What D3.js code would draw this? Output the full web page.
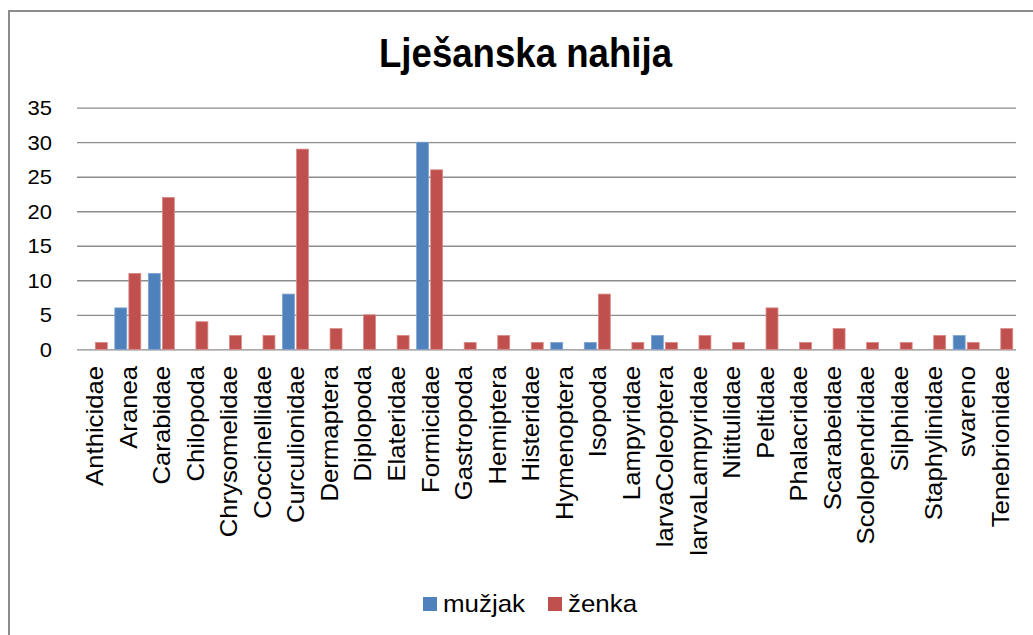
<!DOCTYPE html>
<html>
<head>
<meta charset="utf-8">
<script src="https://cdn.jsdelivr.net/npm/d3@7"></script>
<style>
  body { margin: 0; background: #fff; }
  text { font-family: "Liberation Sans", Arial, sans-serif; fill: #000; }
</style>
</head>
<body>
<script>
/* Data */
var categories = ["Anthicidae", "Aranea", "Carabidae", "Chilopoda", "Chrysomelidae", "Coccinellidae",
	"Curculionidae", "Dermaptera", "Diplopoda", "Elateridae", "Formicidae", "Gastropoda", "Hemiptera",
	"Histeridae", "Hymenoptera", "Isopoda", "Lampyridae", "larvaColeoptera", "larvaLampyridae",
	"Nititulidae", "Peltidae", "Phalacridae", "Scarabeidae", "Scolopendridae", "Silphidae",
	"Staphylinidae", "svareno", "Tenebrionidae"];
var muzjak = [0, 6, 11, 0, 0, 0, 8, 0, 0, 0, 30, 0, 0, 0, 1, 1, 0, 2, 0, 0, 0, 0, 0, 0, 0, 0, 2, 0];
var zenka = [1, 11, 22, 4, 2, 2, 29, 3, 5, 2, 26, 1, 2, 1, 0, 8, 1, 1, 2, 1, 6, 1, 3, 1, 1, 2, 1, 3];
var seriesNames = ["mužjak", "ženka"];
var seriesColors = ["#4F81BD", "#C0504D"];
var seriesStroke = ["#7fa3d1", "#d98a88"];
var yTicks = [0, 5, 10, 15, 20, 25, 30, 35];

/* Display setup */
var width = 1033, height = 635,
	plot = {left: 77, right: 1016, top: 107.7, bottom: 349.3},
	svg = d3.select("body").append("svg")
		.attr("width", width)
		.attr("height", height);

// chart frame (only top and left edges are visible)
svg.append("path")
	.attr("d", "M9,700 L9,11 L1040,11")
	.style("fill", "none")
	.style("stroke", "#8c8c8c")
	.style("stroke-width", 2);

var x = d3.scaleBand().domain(categories).range([plot.left, plot.right]),
	x1 = d3.scaleBand().domain(seriesNames).range([-12.5, 13.5]).paddingInner(0.15),
	y = d3.scaleLinear().domain([0, 35]).range([plot.bottom, plot.top]);

/* Title */
svg.append("text")
	.attr("x", 525.5)
	.attr("y", 67)
	.attr("text-anchor", "middle")
	.attr("textLength", 293)
	.attr("lengthAdjust", "spacingAndGlyphs")
	.style("font-size", "40px")
	.style("font-weight", "bold")
	.text("Lješanska nahija");

/* Grid lines + y labels */
var yAxis = d3.axisLeft(y).tickValues(yTicks).tickSize(-(plot.right - plot.left)).tickPadding(0);
var gy = svg.append("g")
	.attr("transform", "translate(" + plot.left + ",0)")
	.call(yAxis);
gy.select(".domain").remove();
gy.selectAll(".tick line")
	.style("stroke", "#8c8c8c")
	.style("stroke-width", 1.3);
gy.selectAll(".tick text")
	.attr("x", 0)
	.attr("dy", null)
	.attr("text-anchor", "end")
	.attr("dominant-baseline", "central")
	.attr("transform", "translate(-25,0) scale(1.1,1)")
	.style("font-size", "20px")
	.style("font-family", "'Liberation Sans', Arial, sans-serif")
	.style("fill", "#000");

/* Bars */
var table = categories.map(function(c, i) { return {cat: c, values: [muzjak[i], zenka[i]]}; });
var groups = svg.append("g").selectAll("g")
	.data(table)
	.enter().append("g")
		.attr("transform", function(d) { return "translate(" + (x(d.cat) + x.bandwidth() / 2) + ",0)"; });

groups.selectAll("rect")
	.data(function(d) { return d.values.map(function(v, k) { return {v: v, k: k}; }); })
	.enter().filter(function(d) { return d.v > 0; }).append("rect")
		.attr("x", function(d) { return x1(seriesNames[d.k]); })
		.attr("width", x1.bandwidth())
		.attr("y", function(d) { return y(d.v); })
		.attr("height", function(d) { return y(0) - y(d.v); })
		.style("fill", function(d) { return seriesColors[d.k]; })
		.style("stroke", function(d) { return seriesStroke[d.k]; })
		.style("stroke-width", 0.8);

/* Category labels */
svg.append("g").selectAll("text")
	.data(categories)
	.enter().append("text")
		.attr("transform", function(d) {
			return "translate(" + (x(d) + x.bandwidth() / 2 + 1) + ",366) rotate(-90) scale(1.07,1)";
		})
		.attr("text-anchor", "end")
		.attr("dy", "0.35em")
		.style("font-size", "24px")
		.text(function(d) { return d; });

/* Legend */
var legendX = [423, 548];
var legend = svg.append("g").selectAll("g")
	.data(seriesNames)
	.enter().append("g")
		.attr("transform", function(d, i) { return "translate(" + legendX[i] + ",597)"; });
legend.append("rect")
	.attr("width", 14)
	.attr("height", 14)
	.style("fill", function(d, i) { return seriesColors[i]; });
legend.append("text")
	.attr("transform", "translate(20,15) scale(1.08,1)")
	.style("font-size", "24px")
	.text(function(d) { return d; });
</script>
</body>
</html>
